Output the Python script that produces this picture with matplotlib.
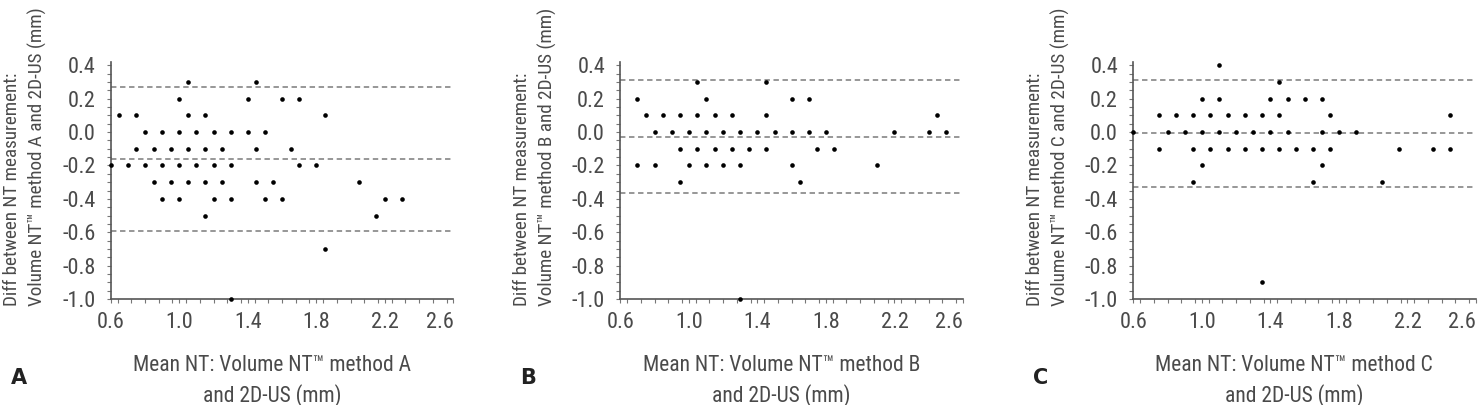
import matplotlib
matplotlib.use("Agg")
import matplotlib.pyplot as plt
from matplotlib import font_manager as fm
from matplotlib.ticker import MultipleLocator
import numpy as np

# ---------------- data ----------------
# Panel A: Volume NT method A vs 2D-US
a_mean = [1.05, 1.45,
          1.00, 1.40, 1.60, 1.70,
          0.65, 0.75, 1.05, 1.15, 1.85,
          0.80, 0.90, 1.00, 1.10, 1.20, 1.30, 1.40, 1.50,
          0.75, 0.85, 0.95, 1.05, 1.15, 1.25, 1.45, 1.65,
          0.60, 0.70, 0.80, 0.90, 1.00, 1.10, 1.20, 1.30, 1.70, 1.80,
          0.85, 0.95, 1.05, 1.15, 1.25, 1.45, 1.55, 2.05,
          0.90, 1.00, 1.20, 1.30, 1.50, 1.60, 2.20, 2.30,
          1.15, 2.15,
          1.85,
          1.30]
a_diff = [0.3] * 2 + [0.2] * 4 + [0.1] * 5 + [0.0] * 8 + [-0.1] * 8 + \
         [-0.2] * 10 + [-0.3] * 8 + [-0.4] * 8 + [-0.5] * 2 + [-0.7] + [-1.0]
a_lines = [0.27, -0.163, -0.595]

# Panel B: Volume NT method B vs 2D-US
b_mean = [1.05, 1.45,
          0.70, 1.10, 1.60, 1.70,
          0.75, 0.85, 0.95, 1.05, 1.15, 1.25, 1.45, 2.45,
          0.80, 0.90, 1.00, 1.10, 1.20, 1.30, 1.40, 1.50, 1.60, 1.70, 1.80, 2.20, 2.40, 2.50,
          0.95, 1.05, 1.15, 1.25, 1.35, 1.45, 1.75, 1.85,
          0.70, 0.80, 1.00, 1.10, 1.20, 1.30, 1.60, 2.10,
          0.95, 1.65,
          1.30]
b_diff = [0.3] * 2 + [0.2] * 4 + [0.1] * 8 + [0.0] * 14 + [-0.1] * 8 + \
         [-0.2] * 8 + [-0.3] * 2 + [-1.0]
b_lines = [0.31, -0.027, -0.366]

# Panel C: Volume NT method C vs 2D-US
c_mean = [1.10,
          1.45,
          1.00, 1.10, 1.40, 1.50, 1.60, 1.70,
          0.75, 0.85, 0.95, 1.05, 1.15, 1.25, 1.35, 1.45, 1.75, 2.45,
          0.60, 0.80, 0.90, 1.00, 1.10, 1.20, 1.30, 1.40, 1.50, 1.70, 1.80, 1.90,
          0.75, 0.95, 1.05, 1.15, 1.25, 1.35, 1.45, 1.55, 1.65, 1.75, 2.15, 2.35, 2.45,
          1.00, 1.70,
          0.95, 1.65, 2.05,
          1.35]
c_diff = [0.4] + [0.3] + [0.2] * 6 + [0.1] * 10 + [0.0] * 12 + [-0.1] * 13 + \
         [-0.2] * 2 + [-0.3] * 3 + [-0.9]
c_lines = [0.31, -0.006, -0.326]

x_ticks = [0.6, 1.0, 1.4, 1.8, 2.2, 2.6]
y_ticks = [0.4, 0.2, 0.0, -0.2, -0.4, -0.6, -0.8, -1.0]
letters = ["A", "B", "C"]
methods = ["A", "B", "C"]

# ---------------- font ----------------
prefs = ["RobotoCondensed-Regular", "LiberationSansNarrow-Regular",
         "DejaVuSansCondensed.ttf", "OpenSans_Condensed-Regular", "OpenSansCondensed"]
font_path = None
for p in prefs:
    for fe in fm.fontManager.ttflist:
        if p.lower() in fe.fname.lower().replace(" ", ""):
            font_path = fe.fname
            break
    if font_path:
        break
if font_path:
    fp = fm.FontProperties(fname=font_path)
else:
    fp = fm.FontProperties(family="DejaVu Sans")
fpb = fm.FontProperties(family="DejaVu Sans", weight="bold")

text_col = "#4a4a4a"
FS_TICK = 16
FS_XL = 15.5
FS_YL = 13.8

fig = plt.figure(figsize=(14.84, 4.05), dpi=100)
W, H = 1484, 405

lefts = [110.7, 620.3, 1133.3]
ax_w = 342.7
ax_bottom = 299
ax_top = 62

panels = [(a_mean, a_diff, a_lines), (b_mean, b_diff, b_lines), (c_mean, c_diff, c_lines)]

for i, (xm, yd, lines) in enumerate(panels):
    ax = fig.add_axes([lefts[i] / W, (H - ax_bottom) / H, ax_w / W, (ax_bottom - ax_top) / H])
    ax.set_xlim(0.6, 2.6)
    ax.set_ylim(-1.0, 0.42)
    for s in ["top", "right"]:
        ax.spines[s].set_visible(False)
    for s in ["left", "bottom"]:
        ax.spines[s].set_color("#555555")
        ax.spines[s].set_linewidth(1.2)
    for yl in lines:
        ax.axhline(yl, color="#8f8f8f", lw=1.3, ls=(0, (3, 2)), zorder=1)
    ax.scatter(xm, yd, s=11, color="black", zorder=3, clip_on=False, linewidths=0)

    ax.set_xticks(x_ticks)
    ax.set_yticks(y_ticks)
    ax.xaxis.set_minor_locator(MultipleLocator(0.08))
    ax.yaxis.set_minor_locator(MultipleLocator(0.05))
    ax.tick_params(which="both", direction="out", length=3, width=0.8, color="#777777")
    ax.tick_params(axis="x", pad=6)
    ax.tick_params(axis="y", pad=8)
    ax.set_xticklabels([f"{v:.1f}" for v in x_ticks])
    ax.set_yticklabels([f"{v:.1f}" for v in y_ticks])
    for lab in ax.get_xticklabels() + ax.get_yticklabels():
        lab.set_fontproperties(fp)
        lab.set_fontsize(FS_TICK)
        lab.set_color(text_col)
    ax.get_xticklabels()[-1].set_ha("right")

    ax.set_xlabel(f"Mean NT: Volume NT\u2122 method {methods[i]}\nand 2D-US (mm)",
                  fontproperties=fp, fontsize=FS_XL, color=text_col, linespacing=1.45)
    ax.xaxis.set_label_coords(0.47, -0.235)
    ax.xaxis.label.set_va("top")

    ax.set_ylabel(f"Diff between NT measurement:\nVolume NT\u2122 method {methods[i]} and 2D-US (mm)",
                  fontproperties=fp, fontsize=FS_YL, color=text_col, linespacing=1.45,
                  multialignment="left")
    ax.yaxis.label.set_va("center")
    ax.yaxis.label.set_ha("center")
    ax.yaxis.set_label_coords(-0.25, 0.6)

    fig.text((lefts[i] - 100) / W, (H - 378) / H, letters[i], fontproperties=fpb,
             fontsize=15, color="#222222", ha="left", va="center")

fig.savefig("out.png", dpi=100)
